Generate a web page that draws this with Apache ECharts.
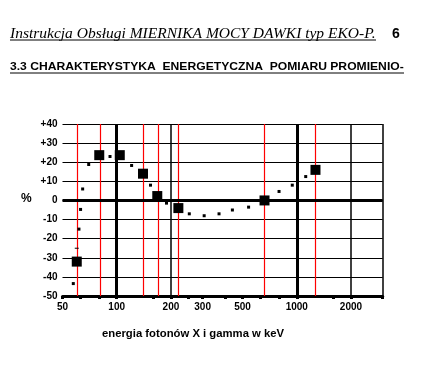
<!DOCTYPE html>
<html><head><meta charset="utf-8">
<script src="https://cdn.jsdelivr.net/npm/echarts@6/dist/echarts.min.js"></script>
<style>html,body{margin:0;padding:0;background:#fff}#c{width:431px;height:387px}</style>
</head><body><div id="c"></div>
<script>
// measured points (energy keV, deviation %)
const bigEnergy = [60, 80, 104, 140, 168, 220, 662, 1270];
const bigValue = [-32, 23.7, 23.7, 14, 2.3, -4, 0, 16];
const smallEnergy = [57.4, 61.7, 63, 64.7, 69.9, 91.8, 121, 154, 189, 253, 306, 370, 439, 540, 797, 944, 1121];
const smallValue = [-43.5, -15, -4.7, 6, 18.8, 23, 18.3, 8, -1.4, -7, -8, -7, -5, -3.5, 4.7, 8, 12.5];
const dashEnergy = [60];
const dashValue = [-25];
const redLines = [60, 81, 140, 170, 220, 662, 1264];
const blackThick = [100, 1000];
const blackThin = [200, 2000, 3000];
const xLabels = [50, 100, 200, 300, 500, 1000, 2000];
const xTicks = [50, 63, 80, 100, 160, 200, 250, 300, 400, 500, 630, 800, 1000, 1600, 2000, 3000];
const yMin = -50, yMax = 40, yStep = 10;

const chart = echarts.init(document.getElementById('c'), null, {renderer: 'canvas'});
const lab = {fontFamily: 'Liberation Sans, Arial, sans-serif', fontWeight: 'bold', fontSize: 10, color: '#000'};
const mk = (xs, color, width) => xs.map(v => ({xAxis: v, lineStyle: {color, width, type: 'solid', opacity: 1}}));
const dot = {color: '#000', opacity: 1};
chart.setOption({
  backgroundColor: '#fff',
  animation: false,
  grid: {left: 62.5, right: 48.3, top: 124, bottom: 91},
  xAxis: {
    type: 'log', logBase: 10, min: 50, max: 3000,
    axisLine: {show: true, onZero: false, lineStyle: {color: '#000', width: 3}},
    axisTick: {show: true, customValues: xTicks, length: 3, inside: false, lineStyle: {color: '#000', width: 3}},
    minorTick: {show: false},
    axisLabel: Object.assign({customValues: xLabels, margin: 6, formatter: v => String(Math.round(v))}, lab),
    splitLine: {show: false}
  },
  yAxis: {
    type: 'value', min: yMin, max: yMax, interval: yStep,
    axisLine: {show: false}, axisTick: {show: false},
    axisLabel: Object.assign({margin: 5, formatter: v => v > 0 ? '+' + v : String(v)}, lab),
    splitLine: {show: true, lineStyle: {color: '#000', width: 1}}
  },
  series: [
    {
      type: 'scatter', data: [], z: 1,
      markLine: {silent: true, symbol: 'none', label: {show: false}, animation: false,
        data: mk(redLines, '#ff0000', 1.2).concat(mk(blackThick, '#000', 3), mk(blackThin, '#000', 1.5),
          [{yAxis: 0, lineStyle: {color: '#000', width: 3, type: 'solid'}}])}
    },
    {type: 'scatter', symbol: 'rect', symbolSize: [3, 3], itemStyle: dot, z: 5,
      emphasis: {disabled: true}, data: smallEnergy.map((e, i) => [e, smallValue[i]])},
    {type: 'scatter', symbol: 'rect', symbolSize: [4, 1], itemStyle: dot, z: 5,
      emphasis: {disabled: true}, data: dashEnergy.map((e, i) => [e, dashValue[i]])},
    {type: 'scatter', symbol: 'rect', symbolSize: 10, itemStyle: dot, z: 6,
      emphasis: {disabled: true}, data: bigEnergy.map((e, i) => [e, bigValue[i]])}
  ],
  graphic: [
    {type: 'text', left: 10, top: 26, style: {text: 'Instrukcja Obsługi MIERNIKA MOCY DAWKI typ EKO-P.', font: 'italic 15.5px "Liberation Serif", "Times New Roman", serif', fill: '#000'}},
    {type: 'line', shape: {x1: 10, y1: 40, x2: 376, y2: 40}, style: {stroke: '#000', lineWidth: 1}},
    {type: 'text', left: 392, top: 27, style: {text: '6', font: 'bold 14px "Liberation Sans", Arial, sans-serif', fill: '#000'}},
    {type: 'text', x: 10, y: 62, scaleX: 1.155, style: {text: '3.3 CHARAKTERYSTYKA  ENERGETYCZNA  POMIARU PROMIENIO-', font: 'bold 10.5px "Liberation Sans", Arial, sans-serif', fill: '#000'}},
    {type: 'line', shape: {x1: 10, y1: 73, x2: 404, y2: 73}, style: {stroke: '#000', lineWidth: 1}},
    {type: 'text', left: 21, top: 193, style: {text: '%', font: 'bold 12px "Liberation Sans", Arial, sans-serif', fill: '#000'}},
    {type: 'text', x: 102, y: 329, scaleX: 1.13, style: {text: 'energia fotonów X i gamma w keV', font: 'bold 10px "Liberation Sans", Arial, sans-serif', fill: '#000'}}
  ]
});
</script></body></html>
